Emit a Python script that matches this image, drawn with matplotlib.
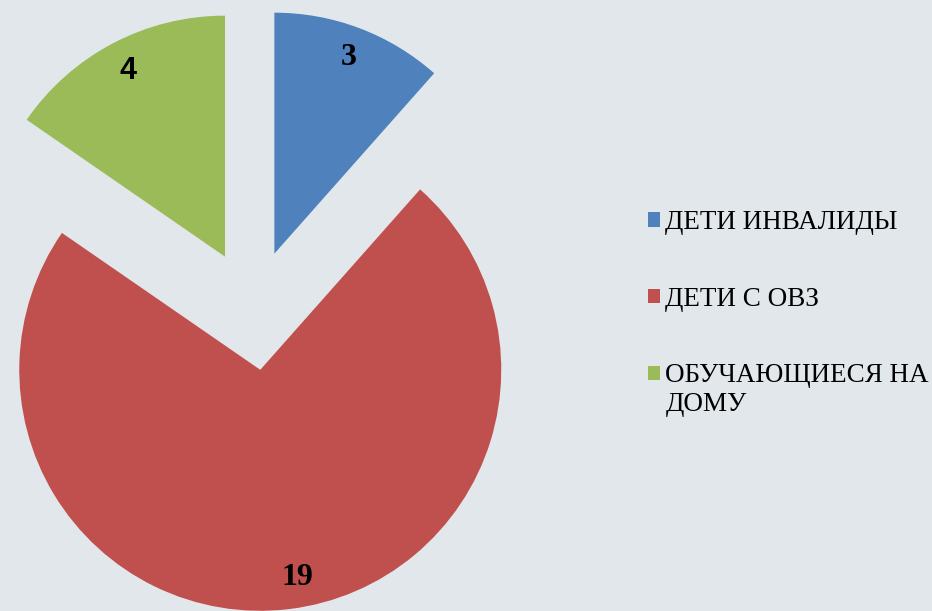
import numpy as np
import matplotlib.pyplot as plt

# данные диаграммы
kategorii = ['ДЕТИ ИНВАЛИДЫ', 'ДЕТИ С ОВЗ', 'ОБУЧАЮЩИЕСЯ НА\nДОМУ']
znacheniya = [3, 19, 4]
cveta = ['#4F81BD', '#C0504D', '#9BBB59']

fon = '#E2E7EC'
R = 241.0  # радиус в пикселях

fig = plt.figure(figsize=(9.32, 6.11), dpi=100, facecolor=fon)
ax = fig.add_axes([0, 0, 1, 1])
ax.set_facecolor(fon)

wedges, texts, autotexts = ax.pie(
    znacheniya, colors=cveta, startangle=90, counterclock=False,
    explode=[0.25, 0.25, 0.25], radius=1,
    autopct=lambda p: '{:.0f}'.format(p * sum(znacheniya) / 100),
    pctdistance=0.87,
    wedgeprops={'linewidth': 0},
    textprops={'fontsize': 23, 'fontweight': 'bold', 'family': 'Liberation Serif'})

# цифра 4 в оригинале без засечек
autotexts[2].set_family('Liberation Sans')
autotexts[2].set_fontsize(22)
# подпись 19 чуть правее, как в оригинале
x19, y19 = autotexts[1].get_position()
autotexts[1].set_position((x19 + 12 / R, y19))

# центр пирога в пикселях (253, 310) от левого верхнего угла
ax.set_xlim(-253 / R, (932 - 253) / R)
ax.set_ylim(-(611 - 310) / R, 310 / R)
ax.set_aspect('auto')
ax.axis('off')

leg = fig.legend(wedges, kategorii, loc='upper left', bbox_to_anchor=(0.695, 0.656),
                 frameon=False, prop={'family': 'Liberation Serif', 'size': 19.5},
                 handlelength=0.45, handleheight=0.45, handletextpad=0.2,
                 labelspacing=1.9, borderpad=0, borderaxespad=0)

# маркер для двухстрочной подписи - на уровне первой строки
h = leg.legend_handles[2]
h.set_y(h.get_y() + 12)

fig.savefig('out.png', dpi=100, facecolor=fon)
